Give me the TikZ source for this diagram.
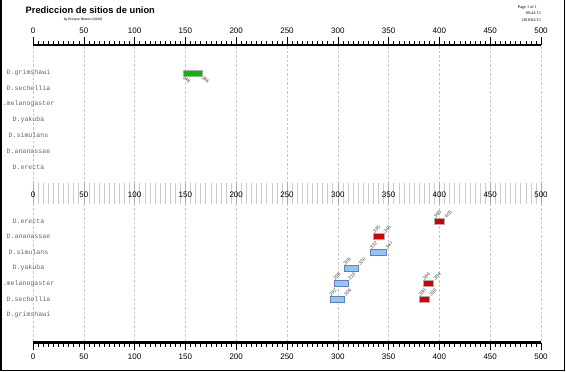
\documentclass[tikz,border=0pt]{standalone}
\usepackage{fontspec}
\setmainfont{Liberation Sans}
\setmonofont{Liberation Mono}
\newfontfamily\stampfont{Liberation Serif}
\usetikzlibrary{positioning}

\definecolor{hitgreen}{RGB}{0,190,0}
\definecolor{hitred}{RGB}{215,0,0}
\definecolor{hitblue}{RGB}{150,195,245}
\definecolor{hitblueline}{RGB}{95,130,180}

\tikzset{
  species/.style={font=\ttfamily\fontsize{6.6}{7}\selectfont, text=black!60, inner sep=0pt},
  scalelbl/.style={font=\fontsize{8}{9}\selectfont, inner sep=0pt},
  hitbox/.style={draw=gray!65, line width=0.6pt, minimum height=6.4pt, inner sep=0pt, anchor=west},
  poslbl/.style={font=\fontsize{4.8}{5}\selectfont, inner sep=0.4pt, anchor=west, text=black!75},
  gridline/.style={gray!45, line width=0.35pt, dash pattern=on 2.5pt off 2pt}
}

\begin{document}
\begin{tikzpicture}[x=1pt, y=-1pt]
  \useasboundingbox (0,0) rectangle (566,372);
  %\draw[style=help lines,very thin] (0,0) grid[step=50] (566,372);
  \draw[line width=1.2pt] (1,-1) -- (1,370.5) -- (564.8,370.5) -- (564.8,-1);

  \node[anchor=west, font=\bfseries\fontsize{9.3}{10}\selectfont, inner sep=0pt] (title) at (25.5,10.5) {Prediccion de sitios de union};
  \node[font=\fontsize{3.4}{4}\selectfont, inner sep=0pt] (author) at (83,19.5) {by Enrique Blanco (2009)};
  \node[anchor=east, font=\stampfont\fontsize{4.2}{5}\selectfont, inner sep=0pt] (page) at (537,7) {Page 1 of 1};
  \node[anchor=east, font=\stampfont\fontsize{4.2}{5}\selectfont, inner sep=0pt] (time) at (541,13.5) {09:42:13};
  \node[anchor=east, font=\stampfont\fontsize{4.2}{5}\selectfont, inner sep=0pt] (date) at (541,20) {2018/02/15};

  % grid
  \foreach \t [evaluate=\t as \px using 33+1.016*\t] in {0,50,...,500} {
    \draw[gridline] (\px,46) -- (\px,341);
  }

  % top scale
  \draw[line width=2.6pt] (33,45) -- (541,45);
  \foreach \t [evaluate=\t as \px using 33+1.016*\t] in {0,5,...,500} {
    \draw[line width=0.4pt] (\px,41) -- (\px,45);
  }
  \foreach \t [evaluate=\t as \px using 33+1.016*\t] in {0,50,...,500} {
    \draw[line width=0.6pt] (\px,37) -- (\px,45);
    \node[scalelbl] (top\t) at (\px,31) {\t};
  }

  % middle scale
  \foreach \t [evaluate=\t as \px using 33+1.016*\t] in {0,5,...,500} {
    \draw[gray!40, line width=0.5pt] (\px,183) -- (\px,203.5);
  }
  \foreach \t [evaluate=\t as \px using 33+1.016*\t] in {0,50,...,500} {
    \draw[gray!65, line width=0.5pt] (\px,183) -- (\px,203.5);
    \node[scalelbl] (mid\t) at (\px,194.5) {\t};
  }

  % bottom scale
  \draw[line width=2.6pt] (33,342.5) -- (541,342.5);
  \foreach \t [evaluate=\t as \px using 33+1.016*\t] in {0,5,...,500} {
    \draw[line width=0.4pt] (\px,342.5) -- (\px,346.5);
  }
  \foreach \t [evaluate=\t as \px using 33+1.016*\t] in {0,50,...,500} {
    \draw[line width=0.6pt] (\px,342.5) -- (\px,349.5);
    \node[scalelbl] (bot\t) at (\px,357) {\t};
  }

  % species, upper block
  \foreach \nm/\yy [count=\i] in {D.grimshawi/73, D.sechellia/88.5, .melanogaster/104, D.yakuba/120,
                                 D.simulans/135.5, D.ananassae/151, D.erecta/167} {
    \node[species] (up\i) at (28.5,\yy) {\nm};
  }

  % species, lower block
  \foreach \nm/\yy [count=\i] in {D.erecta/221, D.ananassae/236.5, D.simulans/252, D.yakuba/268,
                                 .melanogaster/283.5, D.sechellia/299, D.grimshawi/315} {
    \node[species] (low\i) at (28.5,\yy) {\nm};
  }

  % hits, upper block
  \node[hitbox, fill=hitgreen, minimum width={1.016*18pt}] (g1) at ({33+1.016*148},73) {};
  \node[poslbl, rotate=-45] (g1s) at (g1.south west) {148};
  \node[poslbl, rotate=-45] (g1e) at (g1.south east) {166};

  % hits, lower block
  \foreach \s/\e/\yy/\fc/\dc [count=\i] in {395/405/221/hitred/gray!65, 335/345/236.5/hitred/gray!65,
                                 332/347/252/hitblue/hitblueline, 306/320/268/hitblue/hitblueline,
                                 296/310/283.5/hitblue/hitblueline, 384/394/283.5/hitred/gray!65,
                                 292/306/299/hitblue/hitblueline, 380/390/299/hitred/gray!65} {
    \node[hitbox, fill=\fc, draw=\dc, minimum width={1.016*(\e-\s)*1pt}] (h\i) at ({33+1.016*\s},\yy) {};
    \node[poslbl, rotate=45] (h\i s) at (h\i.north west) {\s};
    \node[poslbl, rotate=45] (h\i e) at (h\i.north east) {\e};
  }
\end{tikzpicture}
\end{document}
